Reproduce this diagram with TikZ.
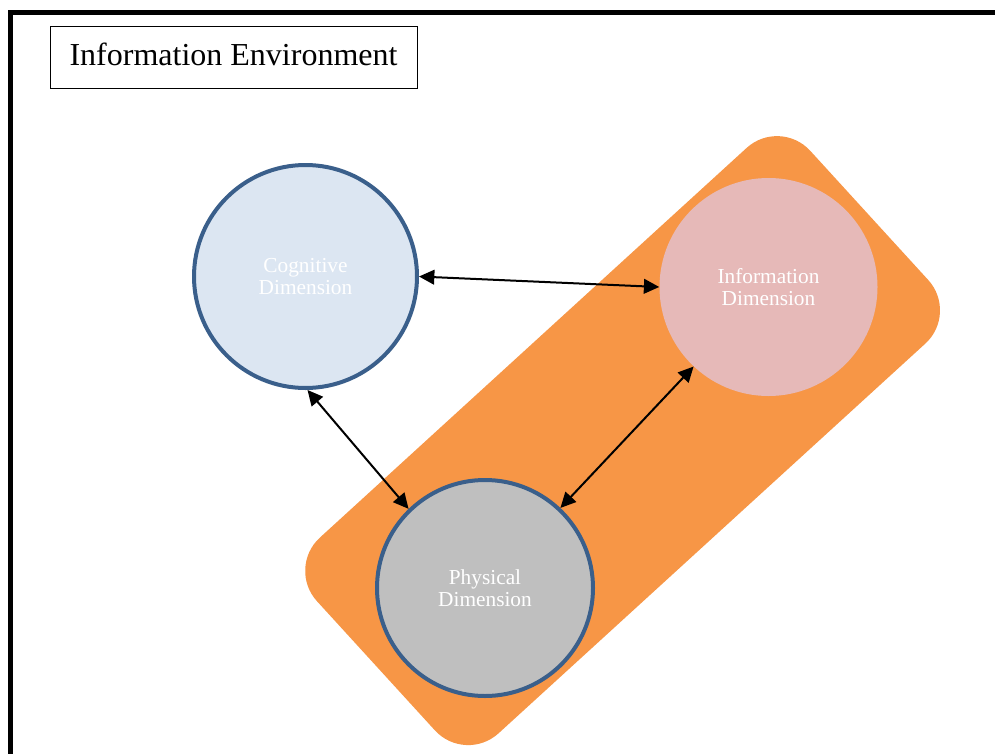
\documentclass[tikz,border=0pt]{standalone}
\usepackage{fontspec}
\setmainfont{Liberation Serif}
\usetikzlibrary{arrows.meta}
\definecolor{orangeband}{HTML}{F79646}
\definecolor{cogfill}{HTML}{DCE6F2}
\definecolor{infofill}{HTML}{E6B9B8}
\definecolor{physfill}{HTML}{BFBFBF}
\definecolor{ringblue}{HTML}{3A5F8B}
\begin{document}
\begin{tikzpicture}[x=0.75pt,y=-0.75pt,
  dimtext/.style={circle, inner sep=0pt, align=center, text=white,
    font=\fontsize{16}{16.7}\selectfont},
  ringed/.style={draw=ringblue, line width=3pt},
  link/.style={{Triangle[length=11.5pt,width=11pt]}-{Triangle[length=11.5pt,width=11pt]},
    line width=1.5pt, black}
]
\useasboundingbox (0,0) rectangle (995,753);
\clip (0,0) rectangle (995,753);
\fill[white] (0,0) rectangle (995,753);
% outer frame (runs off the right and bottom edges)
\draw[line width=3.75pt] (10,820) -- (10,12) -- (1060,12);
% title box
\node (title) [draw, line width=0.75pt, inner sep=0pt,
  minimum width=275.25pt, minimum height=46.5pt,
  text height=16.8pt, text depth=4.8pt,
  font=\fontsize{24}{28}\selectfont] at (233.5,57) {Information Environment};
% orange band
\node (band) [fill=orangeband, rotate=42.4, inner sep=0pt,
  minimum width=501pt, minimum height=198.75pt,
  rounded corners=33.75pt] at (622.6,440.6) {};
% dimensions
\node (cog) [dimtext, ringed, fill=cogfill, minimum size=167.25pt]
  at (305.5,276.5) {Cognitive\\Dimension};
\node (info) [dimtext, fill=infofill, minimum size=163.5pt]
  at (768.5,287) {Information\\Dimension};
\node (phys) [dimtext, ringed, fill=physfill, minimum size=162pt]
  at (485,588) {Physical\\Dimension};
% connectors
\draw[link] (cog.east) -- (info.west);
\draw[link] (cog.-89) -- (phys.134);
\draw[link] (info) -- (phys);
\end{tikzpicture}
\end{document}
